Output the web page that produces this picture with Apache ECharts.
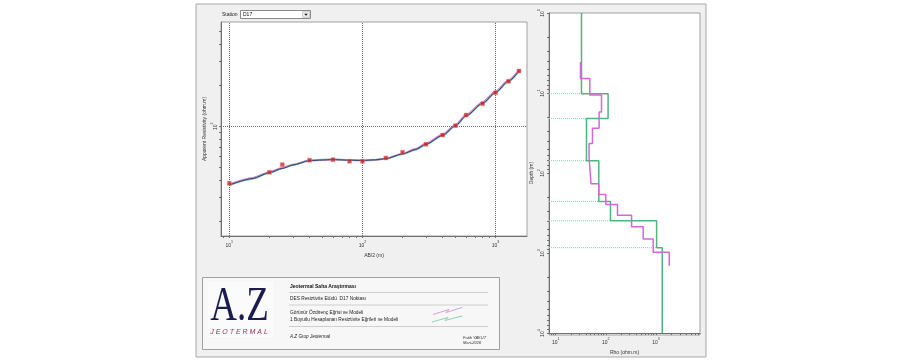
<!DOCTYPE html>
<html><head><meta charset="utf-8">
<script src="https://cdn.jsdelivr.net/npm/echarts@6/dist/echarts.min.js"></script>
<style>html,body{margin:0;padding:0;background:#fff}#c{width:900px;height:360px}</style>
</head><body><div id="c"></div>
<script>
// ---- Sounding curve (left) ----
const abHalf = [10,20,25,40,60,80,100,150,200,300,400,500,600,800,1000,1250,1500];
const rhoApparent = [38.1,45.9,52.2,56.3,56.8,55.3,55.3,58.5,64.4,73.8,86.3,101,121,146.6,176.5,214,255];
const curveAB = [10,15,20,25,30,40,50,60,80,100,125,150,200,250,300,400,500,600,800,1000,1250,1500];
const curveNavy = [37.0,41.3,45.6,49.0,51.9,55.8,56.5,56.9,56.3,56.0,56.7,57.8,62.6,67.5,73.7,85.8,101,119,148,177.5,214.5,256];
const curvePink = [37.3,41.7,46.0,49.4,52.2,55.9,56.6,56.9,56.4,56.1,56.6,57.9,62.9,68.1,74.6,87.1,102.6,121,150.5,180.5,218,260];
const curveGreen = [36.8,41.0,45.3,48.8,51.8,56.1,57.0,57.2,56.6,56.2,56.8,57.6,62.2,67.0,73.2,85.2,100.2,118.2,147,176.3,213,254];
// ---- Layer models (right) ----
const modelRho = [32.7,111,41.1,72.4,124,1033,1337];
const modelTop = 1;
const modelBottom = [10.2,20.8,70,226,395,855,10000];
const invRho = [31.2,47.9,82,73.5,54.2,46.3,50.6,72.4,100,171,327,557,883,1845];
const invTop = 4.1;
const invBottom = [6.6,10.6,17.3,27.5,42.6,63.5,136,186,248,336,469,668,977,1445];
// ---- Tick labels & tick marks ----
const leftXLabels = [10,100,1000];
const leftYLabels = [100];
const rightXLabels = [10,100,1000];
const rightYLabels = [1,10,100,1000,10000];
const leftXTicks = [9,10,20,30,40,50,60,70,80,90,100,200,300,400,500,600,700,800,900,1000];
const leftYTicks = [20,30,40,50,60,70,80,90,100,200,300,400,500];
const rightXTicks = [8,9,10,20,30,40,50,60,70,80,90,100,200,300,400,500,600,700,800,900,1000,2000,3000,4000,5000,6000,7000];
const rightYTicks = [1,2,3,4,5,6,7,8,9,10,20,30,40,50,60,70,80,90,100,200,300,400,500,600,700,800,900,1000,2000,3000,4000,5000,6000,7000,8000,9000,10000];

const lg = Math.log10;
const F = 'Liberation Sans, Arial, sans-serif';
const rich = {
  b: {fontSize: 5, fontFamily: F, color: '#333', verticalAlign: 'bottom', lineHeight: 8},
  s: {fontSize: 3.6, fontFamily: F, color: '#333', verticalAlign: 'top', lineHeight: 8}
};
const supFmt = v => '{b|10}{s|' + Math.round(v) + '}';
const axLine = {show: true, onZero: false, lineStyle: {color: '#707070', width: 1}};
const nameStyle = {fontSize: 5, fontFamily: F, color: '#333'};
const GREEN = '#4fb47f';
const DOT_GREEN = '#8ad6b0';

function stepPoints(rhos, top, bottoms) {
  const pts = [];
  let t = top;
  for (let i = 0; i < rhos.length; i++) {
    pts.push([lg(rhos[i]), lg(t)]);
    pts.push([lg(rhos[i]), lg(bottoms[i])]);
    t = bottoms[i];
  }
  return pts;
}
const rightXMin = 0.866, rightXMax = 3.88;
const boundarySeries = [];
for (let i = 0; i < modelRho.length - 1; i++) {
  const y = lg(modelBottom[i]);
  boundarySeries.push({
    type: 'line', xAxisIndex: 1, yAxisIndex: 1, showSymbol: false, silent: true, z: 2,
    color: DOT_GREEN,
    data: [[rightXMin, y], [lg(Math.min(modelRho[i], modelRho[i + 1])), y]],
    lineStyle: {type: 'dotted', color: DOT_GREEN, width: 1}
  });
}

const graphics = [
  {type: 'rect', z: -10, shape: {x: 196, y: 4, width: 510, height: 353}, style: {fill: '#f0f0f0', stroke: '#a8a8a8', lineWidth: 1}},
  {type: 'rect', z: -9, shape: {x: 221, y: 22, width: 306, height: 214}, style: {fill: '#fff', stroke: '#a0a0a0', lineWidth: 1}},
  {type: 'rect', z: -9, shape: {x: 549, y: 13, width: 151, height: 322}, style: {fill: '#fff', stroke: '#a0a0a0', lineWidth: 1}},
  // station selector
  {type: 'text', z: 10, style: {text: 'Station', x: 222, y: 14.5, font: '5px ' + F, fill: '#222', verticalAlign: 'middle'}},
  {type: 'rect', z: 10, shape: {x: 240.5, y: 10.5, width: 70, height: 8}, style: {fill: '#fff', stroke: '#8a8a8a', lineWidth: 1}},
  {type: 'text', z: 11, style: {text: 'D17', x: 243, y: 14.5, font: '5px ' + F, fill: '#111', verticalAlign: 'middle'}},
  {type: 'rect', z: 11, shape: {x: 302.5, y: 11.5, width: 7, height: 6}, style: {fill: '#e8e8e8', stroke: '#b0b0b0', lineWidth: 0.5}},
  {type: 'polygon', z: 12, shape: {points: [[304.3, 13.8], [307.7, 13.8], [306, 15.8]]}, style: {fill: '#111'}},
  // title block
  {type: 'rect', z: 5, shape: {x: 202.5, y: 277.5, width: 297, height: 72}, style: {fill: '#f7f7f7', stroke: '#a0a0a0', lineWidth: 1}},
  {type: 'rect', z: 6, shape: {x: 207, y: 282, width: 66, height: 55}, style: {fill: '#fbfbfb'}},
  {type: 'text', z: 7, x: 239.5, y: 307.5, scaleX: 0.77, style: {text: 'A.Z', x: 0, y: 0, font: '48px Liberation Serif, Times New Roman, serif', fill: '#1c1c4e', align: 'center', verticalAlign: 'middle'}},
  {type: 'text', z: 7, style: {text: 'J E O T E R M A L', x: 239, y: 332.5, font: 'italic 7px ' + F, fill: '#9a2c52', align: 'center', verticalAlign: 'middle'}},
  {type: 'text', z: 7, style: {text: 'Jeotermal Saha Araştırması', x: 290, y: 286.5, font: 'bold 5px ' + F, fill: '#111', verticalAlign: 'middle'}},
  {type: 'line', z: 7, shape: {x1: 289, y1: 292.5, x2: 488, y2: 292.5}, style: {stroke: '#cfcfcf', lineWidth: 1}},
  {type: 'text', z: 7, style: {text: 'DES Resiztivite Etüdü  D17 Noktası', x: 290, y: 298.7, font: '4.8px ' + F, fill: '#222', verticalAlign: 'middle'}},
  {type: 'line', z: 7, shape: {x1: 289, y1: 305, x2: 488, y2: 305}, style: {stroke: '#cfcfcf', lineWidth: 1}},
  {type: 'text', z: 7, style: {text: 'Görünür Özdirenç Eğrisi ve Modeli', x: 290, y: 312.5, font: '4.8px ' + F, fill: '#222', verticalAlign: 'middle'}},
  {type: 'text', z: 7, style: {text: '1 Boyutlu Hesaplanan Resiztivite Eğrileri ve Modeli', x: 290, y: 320, font: '4.8px ' + F, fill: '#222', verticalAlign: 'middle'}},
  {type: 'line', z: 7, shape: {x1: 289, y1: 326.5, x2: 488, y2: 326.5}, style: {stroke: '#cfcfcf', lineWidth: 1}},
  {type: 'polyline', z: 7, shape: {points: [[433, 314.5], [449, 309.5], [446, 312.5], [462, 307.5]]}, style: {stroke: '#d8a0e0', lineWidth: 1, fill: null}},
  {type: 'polyline', z: 7, shape: {points: [[432, 322], [448, 317.5], [445, 320.5], [462, 316]]}, style: {stroke: '#8fd0c0', lineWidth: 1, fill: null}},
  {type: 'text', z: 7, style: {text: 'A.Z Grup Jeotermal', x: 290, y: 336.5, font: 'italic 4.6px ' + F, fill: '#222', verticalAlign: 'middle'}},
  {type: 'text', z: 7, style: {text: 'Fatih YAKUT', x: 463, y: 338, font: 'italic 4px ' + F, fill: '#333', verticalAlign: 'middle'}},
  {type: 'text', z: 7, style: {text: 'Mart-2016', x: 463, y: 342.7, font: 'italic 4px ' + F, fill: '#333', verticalAlign: 'middle'}}
];

const chart = echarts.init(document.getElementById('c'), null, {renderer: 'canvas', width: 900, height: 360});
chart.setOption({
  animation: false,
  backgroundColor: '#fff',
  grid: [
    {left: 221, top: 22, width: 306, height: 214, containLabel: false},
    {left: 549, top: 13, width: 151, height: 322, containLabel: false}
  ],
  xAxis: [
    {type: 'value', gridIndex: 0, min: 0.9376, max: 3.236, axisLine: axLine,
     axisTick: {show: true, customValues: leftXTicks.map(lg), length: 2, lineStyle: {color: '#707070'}},
     axisLabel: {customValues: leftXLabels.map(lg), formatter: supFmt, rich: rich, margin: 4},
     splitLine: {show: false},
     name: 'AB/2 (m)', nameLocation: 'middle', nameGap: 10, nameTextStyle: nameStyle},
    {type: 'value', gridIndex: 1, min: rightXMin, max: rightXMax, axisLine: axLine,
     axisTick: {show: true, customValues: rightXTicks.map(lg), length: 2, lineStyle: {color: '#707070'}},
     axisLabel: {customValues: rightXLabels.map(lg), formatter: supFmt, rich: rich, margin: 4},
     splitLine: {show: false},
     name: 'Rho (ohm.m)', nameLocation: 'middle', nameGap: 12, nameTextStyle: nameStyle}
  ],
  yAxis: [
    {type: 'value', gridIndex: 0, min: 1.193, max: 2.767, axisLine: axLine,
     axisTick: {show: true, customValues: leftYTicks.map(lg), length: 2, lineStyle: {color: '#707070'}},
     axisLabel: {customValues: leftYLabels.map(lg), formatter: supFmt, rich: rich, margin: 3, rotate: 90},
     splitLine: {show: false},
     name: 'Apparent Resistivity (ohm.m)', nameLocation: 'middle', nameGap: 14, nameTextStyle: nameStyle},
    {type: 'value', gridIndex: 1, min: 0, max: 4, inverse: true, axisLine: axLine,
     axisTick: {show: true, customValues: rightYTicks.map(lg), length: 2, lineStyle: {color: '#707070'}},
     axisLabel: {customValues: rightYLabels.map(lg), formatter: supFmt, rich: rich, margin: 4, rotate: 90},
     splitLine: {show: false},
     name: 'Depth (m)', nameLocation: 'middle', nameGap: 15, nameTextStyle: nameStyle}
  ],
  series: [
    {type: 'line', xAxisIndex: 0, yAxisIndex: 0, smooth: 0.25, smoothMonotone: 'x', showSymbol: false, silent: true,
     data: curveAB.map((a, i) => [lg(a), lg(curvePink[i])]), lineStyle: {color: '#d680d8', width: 2}, z: 2,
     markLine: {silent: true, symbol: 'none', label: {show: false}, animation: false,
       lineStyle: {type: 'dotted', color: '#6a6a6a', width: 1},
       data: [{xAxis: lg(leftXLabels[0])}, {xAxis: lg(leftXLabels[1])}, {xAxis: lg(leftXLabels[2])}, {yAxis: lg(leftYLabels[0])}]}},
    {type: 'line', xAxisIndex: 0, yAxisIndex: 0, smooth: 0.25, smoothMonotone: 'x', showSymbol: false, silent: true,
     data: curveAB.map((a, i) => [lg(a), lg(curveGreen[i])]), lineStyle: {color: '#62c394', width: 1.4}, z: 3},
    {type: 'line', xAxisIndex: 0, yAxisIndex: 0, smooth: 0.25, smoothMonotone: 'x', showSymbol: false, silent: true,
     data: curveAB.map((a, i) => [lg(a), lg(curveNavy[i])]), lineStyle: {color: '#3b3b7a', width: 1}, z: 4},
    {type: 'scatter', xAxisIndex: 0, yAxisIndex: 0, symbol: 'rect', symbolSize: 4, silent: true,
     data: abHalf.map((a, i) => [lg(a), lg(rhoApparent[i])]), itemStyle: {color: '#d02222', borderColor: '#f08080', borderWidth: 0.5}, z: 5},
    ...boundarySeries,
    {type: 'line', xAxisIndex: 1, yAxisIndex: 1, showSymbol: false, silent: true, color: GREEN,
     data: stepPoints(modelRho, modelTop, modelBottom), lineStyle: {color: GREEN, width: 1.5}, z: 3},
    {type: 'line', xAxisIndex: 1, yAxisIndex: 1, showSymbol: false, silent: true,
     data: stepPoints(invRho, invTop, invBottom), lineStyle: {color: '#d468d6', width: 1.5}, z: 4}
  ],
  graphic: {elements: graphics}
});
</script>
</body></html>
